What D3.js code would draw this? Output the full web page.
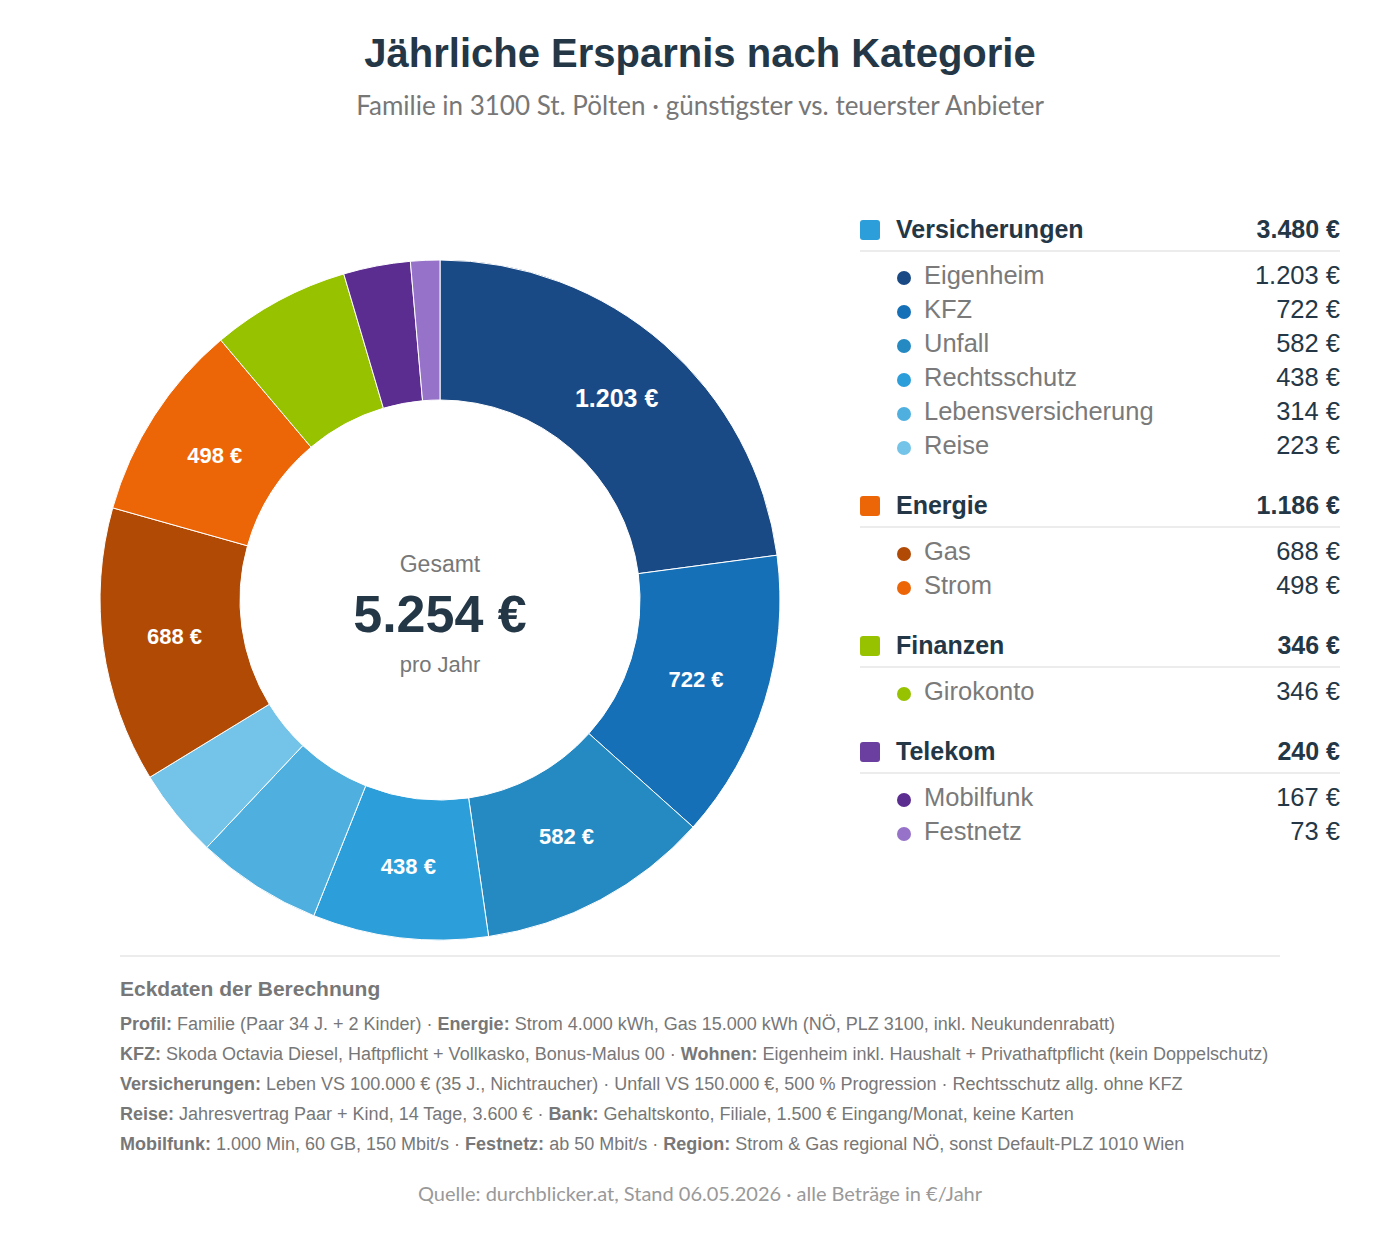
<!DOCTYPE html>
<html><head><meta charset="utf-8">
<script src="https://cdn.jsdelivr.net/npm/d3@7"></script>
<style>body{margin:0;background:#fff}</style>
</head><body>
<svg id="chart" width="1400" height="1240"></svg>
<script>
// Ersparnis nach Kategorie (Summen wie im Original, gerundet)
var groups = [
  {name: "Versicherungen", total: 3480, color: "#2c9ed9", items: [
    {name: "Eigenheim", value: 1203, color: "#1a4a85"},
    {name: "KFZ", value: 722, color: "#1570b8"},
    {name: "Unfall", value: 582, color: "#2589c2"},
    {name: "Rechtsschutz", value: 438, color: "#2c9ed9"},
    {name: "Lebensversicherung", value: 314, color: "#4fb0e0"},
    {name: "Reise", value: 223, color: "#74c3e8"}]},
  {name: "Energie", total: 1186, color: "#ec6608", items: [
    {name: "Gas", value: 688, color: "#b04a05"},
    {name: "Strom", value: 498, color: "#ec6608"}]},
  {name: "Finanzen", total: 346, color: "#97c200", items: [
    {name: "Girokonto", value: 346, color: "#97c200"}]},
  {name: "Telekom", total: 240, color: "#6b3fa0", items: [
    {name: "Mobilfunk", value: 167, color: "#5b2d91"},
    {name: "Festnetz", value: 73, color: "#9673c8"}]}
];
var fmt = function(v){ return d3.format(",")(v).replace(/,/g, ".") + " €"; };
var slices = [];
groups.forEach(function(g){ g.items.forEach(function(it){ slices.push(it); }); });
var total = d3.sum(slices, function(d){ return d.value; });

var svg = d3.select("#chart");
var sans = "'Liberation Sans', Arial, sans-serif";
var dark = "#243746";

svg.append("text").attr("x", 700).attr("y", 67).attr("text-anchor", "middle")
  .attr("font-family", sans).attr("font-weight", "bold").attr("font-size", 40)
  .attr("fill", dark).text("Jährliche Ersparnis nach Kategorie");
svg.append("text").attr("x", 700).attr("y", 115).attr("text-anchor", "middle")
  .attr("font-family", "Lato, sans-serif").attr("font-size", 26)
  .attr("fill", "#777").text("Familie in 3100 St. Pölten · günstigster vs. teuerster Anbieter");

// Donut
var pie = d3.pie().value(function(d){ return d.value; }).sort(null);
var arc = d3.arc().innerRadius(200).outerRadius(340);
var labelArc = d3.arc().innerRadius(268).outerRadius(268);
var donut = svg.append("g").attr("transform", "translate(440,600)");
var arcs = pie(slices);
donut.selectAll("path").data(arcs).enter().append("path")
  .attr("d", arc).attr("fill", function(d){ return d.data.color; })
  .attr("stroke", "#fff").attr("stroke-width", 1);
donut.selectAll("text.lbl").data(arcs.filter(function(d){ return d.data.value >= 400; }))
  .enter().append("text").attr("class", "lbl")
  .attr("transform", function(d){ return "translate(" + labelArc.centroid(d) + ")"; })
  .attr("text-anchor", "middle").attr("dy", "0.35em")
  .attr("font-family", sans).attr("font-weight", "bold")
  .attr("font-size", function(d){ return d.data.value > 1000 ? 25 : 22; })
  .attr("fill", "#fff").text(function(d){ return fmt(d.data.value); });

donut.append("text").attr("y", -28).attr("text-anchor", "middle")
  .attr("font-family", sans).attr("font-size", 23).attr("fill", "#777").text("Gesamt");
donut.append("text").attr("y", 32).attr("text-anchor", "middle")
  .attr("font-family", sans).attr("font-weight", "bold").attr("font-size", 52)
  .attr("fill", dark).text(fmt(total));
donut.append("text").attr("y", 72).attr("text-anchor", "middle")
  .attr("font-family", sans).attr("font-size", 22).attr("fill", "#777").text("pro Jahr");

// Legend
var lg = svg.append("g");
var y = 229;
groups.forEach(function(g){
  lg.append("rect").attr("x", 860).attr("y", y - 9).attr("width", 20).attr("height", 20)
    .attr("rx", 3).attr("fill", g.color);
  lg.append("text").attr("x", 896).attr("y", y).attr("dy", "0.35em")
    .attr("font-family", sans).attr("font-weight", "bold").attr("font-size", 25)
    .attr("fill", dark).text(g.name);
  lg.append("text").attr("x", 1340).attr("y", y).attr("dy", "0.35em").attr("text-anchor", "end")
    .attr("font-family", sans).attr("font-weight", "bold").attr("font-size", 25)
    .attr("fill", dark).text(fmt(g.total));
  lg.append("line").attr("x1", 860).attr("x2", 1340).attr("y1", y + 22).attr("y2", y + 22)
    .attr("stroke", "#e6e6e6").attr("stroke-width", 1.5);
  y += 46;
  g.items.forEach(function(it){
    lg.append("circle").attr("cx", 904).attr("cy", y + 3).attr("r", 7).attr("fill", it.color);
    lg.append("text").attr("x", 924).attr("y", y).attr("dy", "0.35em")
      .attr("font-family", sans).attr("font-size", 25.5).attr("fill", "#7a7a7a").text(it.name);
    lg.append("text").attr("x", 1340).attr("y", y).attr("dy", "0.35em").attr("text-anchor", "end")
      .attr("font-family", sans).attr("font-size", 25.5).attr("fill", dark).text(fmt(it.value));
    y += 34;
  });
  y += 26;
});

// Eckdaten
svg.append("line").attr("x1", 120).attr("x2", 1280).attr("y1", 956).attr("y2", 956)
  .attr("stroke", "#e6e6e6").attr("stroke-width", 1.5);
svg.append("text").attr("x", 120).attr("y", 996).attr("font-family", sans)
  .attr("font-weight", "bold").attr("font-size", 21).attr("fill", "#777").text("Eckdaten der Berechnung");
var notes = [
  [["Profil:", "Familie (Paar 34 J. + 2 Kinder) · "], ["Energie:", "Strom 4.000 kWh, Gas 15.000 kWh (NÖ, PLZ 3100, inkl. Neukundenrabatt)"]],
  [["KFZ:", "Skoda Octavia Diesel, Haftpflicht + Vollkasko, Bonus-Malus 00 · "], ["Wohnen:", "Eigenheim inkl. Haushalt + Privathaftpflicht (kein Doppelschutz)"]],
  [["Versicherungen:", "Leben VS 100.000 € (35 J., Nichtraucher) · Unfall VS 150.000 €, 500 % Progression · Rechtsschutz allg. ohne KFZ"]],
  [["Reise:", "Jahresvertrag Paar + Kind, 14 Tage, 3.600 € · "], ["Bank:", "Gehaltskonto, Filiale, 1.500 € Eingang/Monat, keine Karten"]],
  [["Mobilfunk:", "1.000 Min, 60 GB, 150 Mbit/s · "], ["Festnetz:", "ab 50 Mbit/s · "], ["Region:", "Strom & Gas regional NÖ, sonst Default-PLZ 1010 Wien"]]
];
notes.forEach(function(line, i){
  var t = svg.append("text").attr("x", 120).attr("y", 1030 + i * 30)
    .attr("font-family", sans).attr("font-size", 18).attr("fill", "#777");
  line.forEach(function(p){
    t.append("tspan").attr("font-weight", "bold").text(p[0]);
    t.append("tspan").text(" " + p[1]);
  });
});

svg.append("text").attr("x", 700).attr("y", 1201).attr("text-anchor", "middle")
  .attr("font-family", "Lato, sans-serif").attr("font-size", 20).attr("fill", "#999")
  .text("Quelle: durchblicker.at, Stand 06.05.2026 · alle Beträge in €/Jahr");
</script>
</body></html>
